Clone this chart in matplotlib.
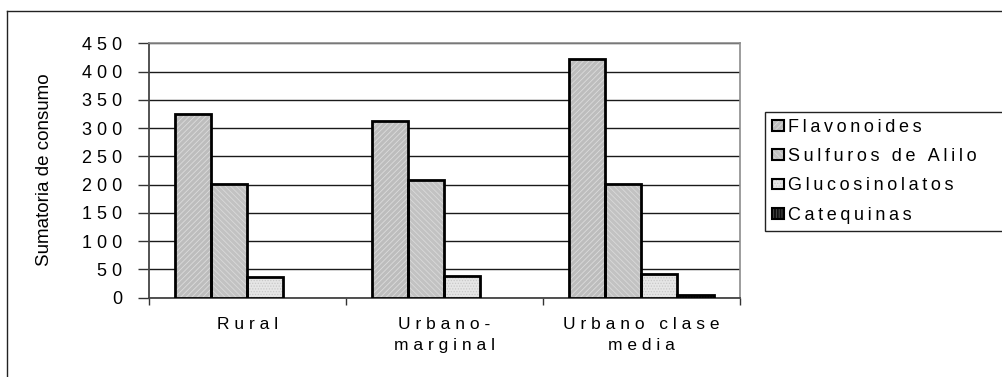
import matplotlib
matplotlib.use("Agg")
import matplotlib.pyplot as plt
from matplotlib.patches import Patch
from matplotlib.lines import Line2D
import numpy as np

plt.rcParams['font.family'] = ['Liberation Sans', 'DejaVu Sans']
plt.rcParams['hatch.linewidth'] = 0.6

# Data
categories = ["Rural", "Urbano-\nmarginal", "Urbano clase\nmedia"]
series_names = ["Flavonoides", "Sulfuros de Alilo", "Glucosinolatos", "Catequinas"]
flavonoides = [325, 313, 422]
sulfuros = [202, 209, 201]
glucosinolatos = [37, 39, 42]
catequinas = [0, 0, 4]
y_ticks = [0, 50, 100, 150, 200, 250, 300, 350, 400, 450]

series_values = [flavonoides, sulfuros, glucosinolatos, catequinas]
fills = ["#bdbdbd", "#c2c2c2", "#e6e6e6", "#101010"]
hatch_colors = ["#dcdcdc", "#dadada", "#c8c8c8", "#505050"]
hatches = ["//////", "\\\\\\\\\\\\", "......", "||||||"]


def spaced(text, gap=" "):
    """Excel-style expanded character spacing."""
    return "\n".join(gap.join(line) for line in text.split("\n"))


W, H = 1003, 377
fig = plt.figure(figsize=(W / 100, H / 100), dpi=100)
ax = fig.add_axes([149 / W, 1 - 297.7 / H, (740 - 149) / W, (297.7 - 43.3) / H])

n_cat = len(categories)
n_ser = len(series_values)
bar_w = 0.1837
start = 0.1315
x_base = np.arange(n_cat)

for i, vals in enumerate(series_values):
    xs = x_base + start + i * bar_w
    ax.bar(xs, vals, width=bar_w, align="edge", color=fills[i],
           edgecolor=hatch_colors[i], hatch=hatches[i], linewidth=0, zorder=3)
    lws = [2.0 if v > 0 else 0 for v in vals]
    ax.bar(xs, vals, width=bar_w, align="edge", fill=False,
           edgecolor="black", linewidth=lws, zorder=4)

ax.set_xlim(0, n_cat)
ax.set_ylim(0, 450)

# grid
ax.set_yticks(y_ticks)
ax.set_yticklabels([spaced(str(t)) for t in y_ticks], fontsize=13)
ax.yaxis.grid(True, color="#1a1a1a", linewidth=1.0, zorder=0)
ax.set_axisbelow(True)

ax.set_xticks(x_base + 0.5)
ax.set_xticklabels([spaced(c) for c in categories], fontsize=12.5, linespacing=1.45)
ax.set_xticks(np.arange(n_cat + 1), minor=True)
ax.tick_params(axis="x", which="major", length=0, pad=14)
ax.tick_params(axis="x", which="minor", length=5, width=1, color="#333333", direction="out")
ax.tick_params(axis="y", length=8, width=1, color="#333333", direction="out", pad=11)

for side in ["top", "right"]:
    ax.spines[side].set_color("#8c8c8c")
    ax.spines[side].set_linewidth(1.2)
ax.spines["left"].set_color("#444444")
ax.spines["left"].set_linewidth(1.3)
ax.spines["bottom"].set_color("#444444")
ax.spines["bottom"].set_linewidth(1.3)

fig.text(45 / W, 1 - 170 / H, "Sumatoria de consumo", rotation=90,
         ha="center", va="center", fontsize=13.5)

# legend
handles = []
for i in range(n_ser):
    handles.append((Patch(facecolor=fills[i], edgecolor=hatch_colors[i],
                          hatch=hatches[i], linewidth=0),
                    Patch(fill=False, edgecolor="black", linewidth=1.5)))
leg = fig.legend(handles, [spaced(s, "\u2009") for s in series_names],
                 loc="upper left", mode="expand",
                 bbox_to_anchor=(765 / W, 1 - 112 / H, 260 / W, 0),
                 frameon=True, fancybox=False, fontsize=13,
                 handlelength=0.65, handleheight=0.55, handletextpad=0.2,
                 labelspacing=0.67, borderpad=0.4, borderaxespad=0,
                 framealpha=1, edgecolor="#222222")
leg.get_frame().set_linewidth(1.0)

# chart border
fig.add_artist(Line2D([7 / W, 1.0], [1 - 10.7 / H, 1 - 10.7 / H],
                      transform=fig.transFigure, color="#222222", linewidth=1.0))
fig.add_artist(Line2D([7 / W, 7 / W], [1 - 10.7 / H, 0],
                      transform=fig.transFigure, color="#222222", linewidth=1.0))

fig.savefig("out.png", dpi=100)
